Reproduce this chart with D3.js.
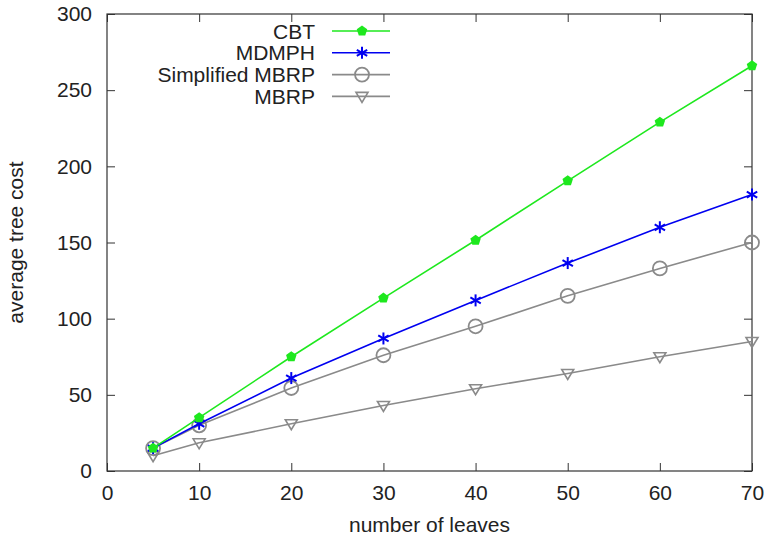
<html>
<head>
<style>
body { margin: 0; background: #fff; font-family: "Liberation Sans", Arial, sans-serif; }
.tick text { font-size: 21px; fill: #222; }
.label { font-size: 21px; fill: #222; }
</style>
</head>
<body>
<div class="chart"></div>
<script src="https://d3js.org/d3.v7.min.js"></script>
<script>
var leaves = [5, 10, 20, 30, 40, 50, 60, 70];
var cbt = [15, 35, 75, 113.5, 151.5, 190.5, 229, 266];
var mdmph = [15, 31, 61, 87, 112, 136.5, 160, 181.5];
var simplified = [15, 30, 54.5, 76, 95, 115, 133, 150];
var mbrp = [10, 18.5, 31, 43, 54, 64, 75, 85];
var xTicks = [0, 10, 20, 30, 40, 50, 60, 70];
var yTicks = [0, 50, 100, 150, 200, 250, 300];

var series = [
  {name: "CBT", values: cbt, color: "#1ee81e", marker: "pentagon"},
  {name: "MDMPH", values: mdmph, color: "#0000f0", marker: "star"},
  {name: "Simplified MBRP", values: simplified, color: "#8a8a8a", marker: "circle"},
  {name: "MBRP", values: mbrp, color: "#8a8a8a", marker: "triangle"}
];

var margin = {top: 14, right: 17, bottom: 70, left: 107},
  width = 769 - margin.left - margin.right,
  height = 541 - margin.top - margin.bottom;

var svg = d3.select(".chart").append("svg")
    .attr("width", 769)
    .attr("height", 541)
  .append("g")
    .attr("transform", "translate(" + margin.left + "," + margin.top + ")");

var x = d3.scaleLinear().domain([0, 70]).range([0, width]);
var y = d3.scaleLinear().domain([0, 300]).range([height, 0]);

function styleAxis(g, labels) {
  g.select(".domain").remove();
  g.selectAll("line").attr("stroke", "#333");
  if (!labels) g.selectAll("text").remove();
}

svg.append("g").attr("transform", "translate(0," + height + ")")
  .call(d3.axisBottom(x).tickValues(xTicks).tickSizeInner(-8).tickPadding(14))
  .call(styleAxis, true);
svg.append("g")
  .call(d3.axisTop(x).tickValues(xTicks).tickSizeInner(-8))
  .call(styleAxis, false);
svg.append("g")
  .call(d3.axisLeft(y).tickValues(yTicks).tickSizeInner(-8).tickPadding(15))
  .call(styleAxis, true);
svg.append("g").attr("transform", "translate(" + width + ",0)")
  .call(d3.axisRight(y).tickValues(yTicks).tickSizeInner(-8))
  .call(styleAxis, false);

svg.append("rect")
  .attr("width", width).attr("height", height)
  .attr("fill", "none").attr("stroke", "#333").attr("stroke-width", 1.2);

svg.append("text").attr("class", "label")
  .attr("x", width / 2).attr("y", height + 61)
  .attr("text-anchor", "middle").text("number of leaves");
svg.append("text").attr("class", "label")
  .attr("transform", "translate(" + (-84) + "," + (height / 2) + ") rotate(-90)")
  .attr("text-anchor", "middle").text("average tree cost");

function drawMarker(g, type, color) {
  if (type === "pentagon") {
    var pts = d3.range(5).map(function(i) {
      var a = -Math.PI / 2 + i * 2 * Math.PI / 5;
      return [5.5 * Math.cos(a), 5.5 * Math.sin(a)];
    });
    g.append("polygon").attr("points", pts.join(" ")).attr("fill", color);
  } else if (type === "star") {
    [0, 60, 120].forEach(function(a) {
      g.append("line").attr("x1", 0).attr("y1", -6).attr("x2", 0).attr("y2", 6)
        .attr("transform", "rotate(" + a + ")")
        .attr("stroke", color).attr("stroke-width", 2);
    });
  } else if (type === "circle") {
    g.append("circle").attr("r", 7).attr("fill", "none")
      .attr("stroke", color).attr("stroke-width", 1.8);
  } else {
    g.append("path").attr("d", "M-6,-4 L6,-4 L0,6 Z").attr("fill", "none")
      .attr("stroke", color).attr("stroke-width", 1.6);
  }
}

var line = d3.line()
  .x(function(d, i) { return x(leaves[i]); })
  .y(function(d) { return y(d); });

series.slice().reverse().forEach(function(s) {
  svg.append("path").datum(s.values)
    .attr("d", line).attr("fill", "none")
    .attr("stroke", s.color).attr("stroke-width", 1.6);
  s.values.forEach(function(v, i) {
    var g = svg.append("g").attr("transform", "translate(" + x(leaves[i]) + "," + y(v) + ")");
    drawMarker(g, s.marker, s.color);
  });
});

// legend
var legend = svg.append("g").attr("transform", "translate(" + (315 - margin.left) + "," + (31 - margin.top) + ")");
series.forEach(function(s, i) {
  var row = legend.append("g").attr("transform", "translate(0," + (i * 21.8) + ")");
  row.append("text").attr("class", "label").attr("x", 0).attr("y", 7.5)
    .attr("text-anchor", "end").text(s.name);
  row.append("line").attr("x1", 17).attr("x2", 75).attr("y1", 0).attr("y2", 0)
    .attr("stroke", s.color).attr("stroke-width", 1.6);
  var m = row.append("g").attr("transform", "translate(47,0)");
  drawMarker(m, s.marker, s.color);
});
</script>
</body>
</html>
